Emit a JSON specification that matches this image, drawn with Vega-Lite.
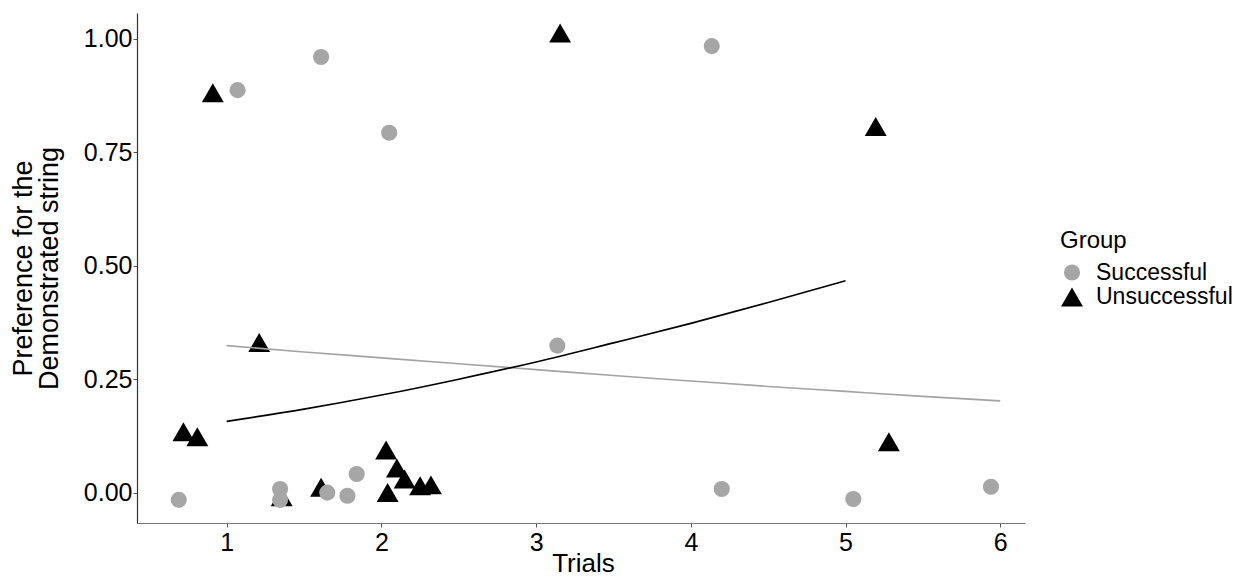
{
  "$schema": "https://vega.github.io/schema/vega-lite/v6.json",
  "width": 888,
  "height": 510,
  "autosize": {"type": "none"},
  "padding": {"left": 137, "top": 13, "right": 231, "bottom": 54},
  "background": "white",
  "config": {
    "view": {"stroke": null},
    "font": "Liberation Sans",
    "axis": {"grid": false, "labelFont": "Liberation Sans", "titleFont": "Liberation Sans", "titleFontWeight": "normal", "labelColor": "#000", "titleColor": "#000"},
    "legend": {"labelFont": "Liberation Sans", "titleFont": "Liberation Sans"}
  },
  "datasets": {
    "pts": [
      {"Trials": 0.91, "Pref": 0.881, "Group": "Unsuccessful"},
      {"Trials": 3.155, "Pref": 1.013, "Group": "Unsuccessful"},
      {"Trials": 5.195, "Pref": 0.807, "Group": "Unsuccessful"},
      {"Trials": 1.21, "Pref": 0.331, "Group": "Unsuccessful"},
      {"Trials": 0.72, "Pref": 0.134, "Group": "Unsuccessful"},
      {"Trials": 0.81, "Pref": 0.123, "Group": "Unsuccessful"},
      {"Trials": 1.355, "Pref": -0.009, "Group": "Unsuccessful"},
      {"Trials": 1.61, "Pref": 0.012, "Group": "Unsuccessful"},
      {"Trials": 2.03, "Pref": 0.094, "Group": "Unsuccessful"},
      {"Trials": 2.10, "Pref": 0.054, "Group": "Unsuccessful"},
      {"Trials": 2.15, "Pref": 0.030, "Group": "Unsuccessful"},
      {"Trials": 2.04, "Pref": 0.0, "Group": "Unsuccessful"},
      {"Trials": 2.25, "Pref": 0.015, "Group": "Unsuccessful"},
      {"Trials": 2.32, "Pref": 0.017, "Group": "Unsuccessful"},
      {"Trials": 5.28, "Pref": 0.112, "Group": "Unsuccessful"},
      {"Trials": 0.69, "Pref": -0.016, "Group": "Successful"},
      {"Trials": 1.07, "Pref": 0.887, "Group": "Successful"},
      {"Trials": 1.61, "Pref": 0.960, "Group": "Successful"},
      {"Trials": 1.345, "Pref": 0.008, "Group": "Successful"},
      {"Trials": 1.345, "Pref": -0.016, "Group": "Successful"},
      {"Trials": 1.65, "Pref": 0.0, "Group": "Successful"},
      {"Trials": 1.78, "Pref": -0.007, "Group": "Successful"},
      {"Trials": 1.84, "Pref": 0.041, "Group": "Successful"},
      {"Trials": 2.05, "Pref": 0.793, "Group": "Successful"},
      {"Trials": 3.137, "Pref": 0.324, "Group": "Successful"},
      {"Trials": 4.135, "Pref": 0.984, "Group": "Successful"},
      {"Trials": 4.20, "Pref": 0.008, "Group": "Successful"},
      {"Trials": 5.05, "Pref": -0.014, "Group": "Successful"},
      {"Trials": 5.94, "Pref": 0.013, "Group": "Successful"}
    ],
    "fitS": [
      {"Trials": 1, "Pred": 0.324},
      {"Trials": 1.5, "Pred": 0.310},
      {"Trials": 2, "Pred": 0.297},
      {"Trials": 2.5, "Pred": 0.284},
      {"Trials": 3, "Pred": 0.271},
      {"Trials": 3.5, "Pred": 0.258},
      {"Trials": 4, "Pred": 0.246},
      {"Trials": 4.5, "Pred": 0.234},
      {"Trials": 5, "Pred": 0.223},
      {"Trials": 5.5, "Pred": 0.212},
      {"Trials": 6, "Pred": 0.202}
    ],
    "fitU": [
      {"Trials": 1, "Pred": 0.157},
      {"Trials": 1.5, "Pred": 0.184},
      {"Trials": 2, "Pred": 0.215},
      {"Trials": 2.5, "Pred": 0.250},
      {"Trials": 3, "Pred": 0.288},
      {"Trials": 3.5, "Pred": 0.330},
      {"Trials": 4, "Pred": 0.373},
      {"Trials": 4.5, "Pred": 0.419},
      {"Trials": 5, "Pred": 0.467}
    ]
  },
  "layer": [
    {
      "data": {"name": "pts"},
      "mark": {"type": "point", "filled": true, "opacity": 1},
      "encoding": {
        "x": {
          "field": "Trials", "type": "quantitative",
          "scale": {"domain": [0.42, 6.16], "nice": false, "zero": false},
          "axis": {
            "title": "Trials", "values": [1, 2, 3, 4, 5, 6], "format": "d",
            "labelFontSize": 25, "titleFontSize": 26,
            "domainColor": "#777", "domainWidth": 1.2, "tickColor": "#555", "tickSize": 4,
            "labelPadding": 3, "titleX": 446, "titleY": 48, "titleBaseline": "alphabetic"
          }
        },
        "y": {
          "field": "Pref", "type": "quantitative",
          "scale": {"domain": [-0.067, 1.057], "nice": false, "zero": false},
          "axis": {
            "title": ["Preference for the", "Demonstrated string"],
            "values": [0, 0.25, 0.5, 0.75, 1], "format": ".2f",
            "labelFontSize": 25, "titleFontSize": 27, "titleLineHeight": 26,
            "domainColor": "#333", "domainWidth": 1.2, "tickColor": "#555", "tickSize": 4,
            "labelPadding": 1, "titleX": -106, "titleY": 255, "titleBaseline": "alphabetic",
            "titleAngle": -90, "titleAlign": "center"
          }
        },
        "color": {
          "field": "Group", "type": "nominal",
          "scale": {"domain": ["Successful", "Unsuccessful"], "range": ["#a6a6a6", "#000000"]},
          "legend": {
            "orient": "none", "legendX": 923, "legendY": 216,
            "title": "Group", "titleFontSize": 24, "titleFontWeight": "normal", "titleColor": "#000",
            "labelFontSize": 23, "labelColor": "#000", "labelOffset": 12,
            "titlePadding": 8, "rowPadding": 0
          }
        },
        "shape": {
          "field": "Group", "type": "nominal",
          "scale": {"domain": ["Successful", "Unsuccessful"], "range": ["circle", "triangle-up"]}
        },
        "size": {
          "field": "Group", "type": "nominal",
          "scale": {"domain": ["Successful", "Unsuccessful"], "range": [260, 480]}
        }
      }
    },
    {
      "data": {"name": "fitS"},
      "mark": {"type": "line", "strokeWidth": 1.6, "interpolate": "monotone", "color": "#a3a3a3"},
      "encoding": {
        "x": {"field": "Trials", "type": "quantitative"},
        "y": {"field": "Pred", "type": "quantitative"}
      }
    },
    {
      "data": {"name": "fitU"},
      "mark": {"type": "line", "strokeWidth": 1.6, "interpolate": "monotone", "color": "#000000"},
      "encoding": {
        "x": {"field": "Trials", "type": "quantitative"},
        "y": {"field": "Pred", "type": "quantitative"}
      }
    }
  ]
}
